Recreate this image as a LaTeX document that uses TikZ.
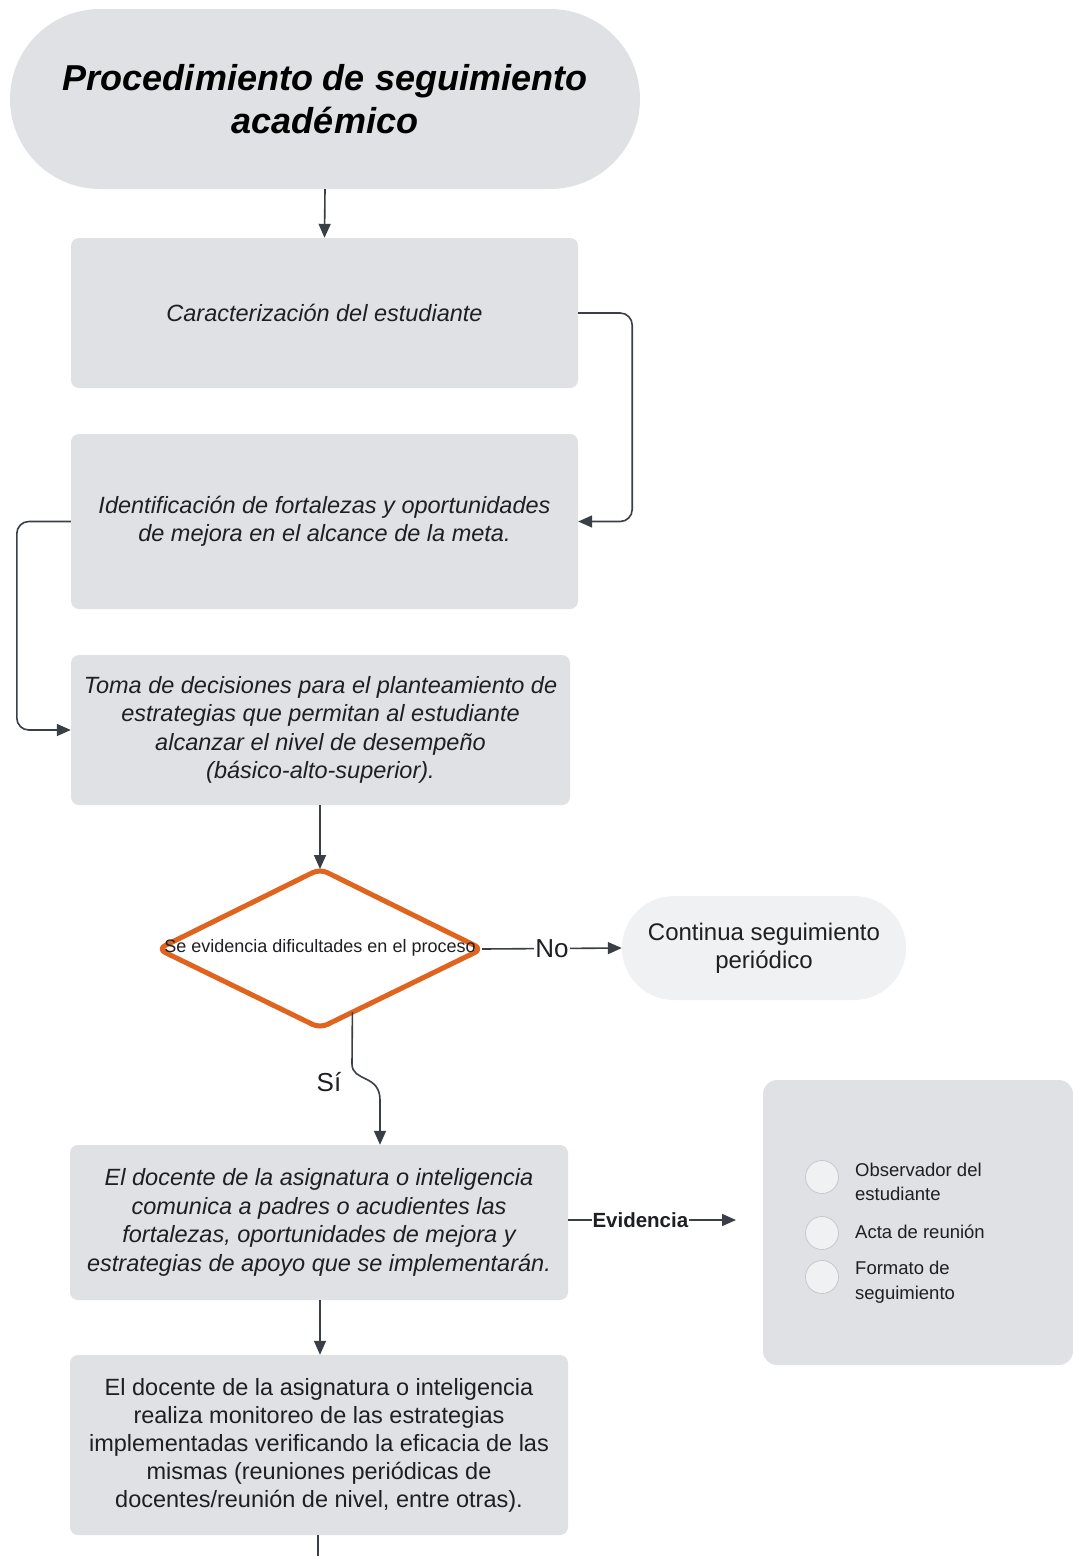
\documentclass[tikz,border=0pt]{standalone}
\usepackage{fontspec}
\setmainfont{Liberation Sans}
\usetikzlibrary{arrows.meta,calc}
\definecolor{boxgray}{HTML}{DFE1E5}
\definecolor{lightgray}{HTML}{F0F1F3}
\definecolor{linecol}{HTML}{3A3F47}
\definecolor{orangec}{HTML}{E0641E}
\definecolor{txt}{HTML}{1E1F22}
\definecolor{circdraw}{HTML}{C6C8CC}
\tikzset{
  procbox/.style={fill=boxgray, rounded corners=8pt, inner sep=0pt, align=center, text=txt,
    font=\fontsize{23.5}{28.5}\selectfont\itshape},
  plainbox/.style={procbox, font=\fontsize{23.5}{28}\selectfont},
  conn/.style={draw=linecol, line width=1.6pt, -{Triangle[length=14pt,width=12pt]}},
  plainline/.style={draw=linecol, line width=1.6pt},
  decision/.style={draw=orangec, fill=white, line width=5pt, line join=round, rounded corners=8pt},
  listtext/.style={anchor=west, align=left, text=txt, inner sep=0pt, font=\fontsize{18.5}{24.5}\selectfont},
  bullet/.style={circle, fill=lightgray, draw=circdraw, line width=0.8pt, minimum size=33pt, inner sep=0pt}
}
\begin{document}
\begin{tikzpicture}[x=1pt,y=-1pt]
\useasboundingbox[fill=white] (0,0) rectangle (1073,1556);

% title
\node[fill=boxgray, rounded corners=90pt, minimum width=630pt, minimum height=180pt, inner sep=0pt,
  align=center, text=black, font=\fontsize{36}{43}\selectfont\bfseries\itshape] (title) at (325,99)
  {Procedimiento de seguimiento\\académico};

% process boxes
\node[procbox, minimum width=507pt, minimum height=150pt] (b1) at (324.5,313) {Caracterización del estudiante};
\node[procbox, minimum width=507pt, minimum height=175pt] (b2) at (324.5,521.5)
  {Identificación de fortalezas y oportunidades\\de mejora en el alcance de la meta.};
\node[procbox, minimum width=499pt, minimum height=150pt] (b3) at (320.5,730)
  {Toma de decisiones para el planteamiento de\\estrategias que permitan al estudiante\\alcanzar el nivel de desempeño\\(básico-alto-superior).};
\node[procbox, minimum width=498pt, minimum height=155pt] (b4) at (319,1222.5)
  {El docente de la asignatura o inteligencia\\comunica a padres o acudientes las\\fortalezas, oportunidades de mejora y\\estrategias de apoyo que se implementarán.};
\node[plainbox, minimum width=498pt, minimum height=180pt] (b5) at (319,1445)
  {El docente de la asignatura o inteligencia\\realiza monitoreo de las estrategias\\implementadas verificando la eficacia de las\\mismas (reuniones periódicas de\\docentes/reunión de nivel, entre otras).};

% decision diamond
\coordinate (dtop) at (320,869);
\coordinate (dright) at (482,949);
\coordinate (dbottom) at (320,1028);
\coordinate (dleft) at (158,949);
\draw[decision] (dtop) -- (dright) -- (dbottom) -- (dleft) -- cycle;
\node[text=txt, inner sep=0pt, font=\fontsize{18}{20}\selectfont] (dq) at (320,948) {Se evidencia dificultades en el proceso};

% continue terminal
\node[fill=lightgray, rounded corners=52pt, minimum width=284pt, minimum height=104pt, inner sep=0pt,
  align=center, text=txt, font=\fontsize{24}{28}\selectfont] (cont) at (764,948)
  {Continua seguimiento\\periódico};

% evidence box
\node[fill=boxgray, rounded corners=14pt, minimum width=310pt, minimum height=285pt, inner sep=0pt] (ev) at (918,1222.5) {};
\node[bullet] (c1) at (822,1177) {};
\node[bullet] (c2) at (822,1233) {};
\node[bullet] (c3) at (822,1277) {};
\node[listtext] (t1) at (855,1182) {Observador del\\estudiante};
\node[listtext] (t2) at (855,1232) {Acta de reunión};
\node[listtext] (t3) at (855,1282) {Formato de\\seguimiento};

% connectors
\draw[conn] (title.south) -- (b1.north);
\draw[conn, rounded corners=12pt] (b1.east) -- ++(54,0) |- (b2.east);
\draw[conn, rounded corners=12pt] (b2.west) -- ++(-54,0) |- (b3.west);
\draw[conn] (b3.south -| dtop) -- (dtop);
\draw[conn] (dright) -- node[fill=white, inner sep=1.5pt, text=txt, font=\fontsize{26}{28}\selectfont] (no) {No} (cont.west);
\coordinate (sistart) at ($(dbottom)!0.2!(dright)$);
\coordinate (sibend) at (352,1064);
\coordinate (siend) at (380,1100);
\draw[conn] (sistart) -- (sibend) .. controls (352,1082) and (380,1074) .. (siend) -- (b4.north -| siend);
\node[text=txt, font=\fontsize{26}{28}\selectfont] (si) at (329,1082) {Sí};
\coordinate (evend) at (736,1220);
\draw[conn] (b4.east |- evend) -- node[pos=0.43, fill=white, inner sep=1pt, text=txt, font=\fontsize{20.5}{22}\selectfont\bfseries] (evlab) {Evidencia} (evend);
\draw[conn] (b4.south -| dtop) -- (b5.north -| dtop);
\coordinate (bottomend) at (318,1556);
\draw[plainline] (b5.south -| bottomend) -- (bottomend);
\end{tikzpicture}
\end{document}
